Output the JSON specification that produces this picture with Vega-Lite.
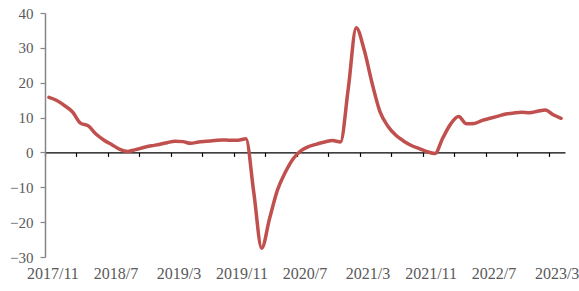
{
  "$schema": "https://vega.github.io/schema/vega-lite/v6.json",
  "width": 520,
  "height": 244,
  "autosize": {"type": "none"},
  "padding": {"left": 45, "top": 13, "right": 14, "bottom": 34},
  "background": "white",
  "config": {"view": {"stroke": null}},
  "data": {"values": [
    {"month": "2017/11", "v": 15.8},
    {"month": "2017/12", "v": 14.9},
    {"month": "2018/1", "v": 13.4},
    {"month": "2018/2", "v": 11.6},
    {"month": "2018/3", "v": 8.4},
    {"month": "2018/4", "v": 7.6},
    {"month": "2018/5", "v": 5.2},
    {"month": "2018/6", "v": 3.5},
    {"month": "2018/7", "v": 2.2},
    {"month": "2018/8", "v": 0.9},
    {"month": "2018/9", "v": 0.3},
    {"month": "2018/10", "v": 0.8},
    {"month": "2018/11", "v": 1.4},
    {"month": "2018/12", "v": 1.9},
    {"month": "2019/1", "v": 2.3},
    {"month": "2019/2", "v": 2.8},
    {"month": "2019/3", "v": 3.2},
    {"month": "2019/4", "v": 3.1},
    {"month": "2019/5", "v": 2.6},
    {"month": "2019/6", "v": 3.0},
    {"month": "2019/7", "v": 3.2},
    {"month": "2019/8", "v": 3.4},
    {"month": "2019/9", "v": 3.6},
    {"month": "2019/10", "v": 3.5},
    {"month": "2019/11", "v": 3.5},
    {"month": "2019/12", "v": 3.9},
    {"month": "2020/1", "v": -11.5},
    {"month": "2020/2", "v": -27.5},
    {"month": "2020/3", "v": -19.0},
    {"month": "2020/4", "v": -10.8},
    {"month": "2020/5", "v": -5.7},
    {"month": "2020/6", "v": -1.8},
    {"month": "2020/7", "v": 0.5},
    {"month": "2020/8", "v": 1.7},
    {"month": "2020/9", "v": 2.4},
    {"month": "2020/10", "v": 3.0},
    {"month": "2020/11", "v": 3.4},
    {"month": "2020/12", "v": 3.0},
    {"month": "2021/1", "v": 18.5},
    {"month": "2021/2", "v": 35.8},
    {"month": "2021/3", "v": 29.5},
    {"month": "2021/4", "v": 20.0},
    {"month": "2021/5", "v": 11.8},
    {"month": "2021/6", "v": 7.6},
    {"month": "2021/7", "v": 5.0},
    {"month": "2021/8", "v": 3.3},
    {"month": "2021/9", "v": 2.0},
    {"month": "2021/10", "v": 1.1},
    {"month": "2021/11", "v": 0.2},
    {"month": "2021/12", "v": -0.3},
    {"month": "2022/1", "v": 4.2},
    {"month": "2022/2", "v": 8.2},
    {"month": "2022/3", "v": 10.3},
    {"month": "2022/4", "v": 8.2},
    {"month": "2022/5", "v": 8.3},
    {"month": "2022/6", "v": 9.2},
    {"month": "2022/7", "v": 9.8},
    {"month": "2022/8", "v": 10.4},
    {"month": "2022/9", "v": 11.0},
    {"month": "2022/10", "v": 11.3},
    {"month": "2022/11", "v": 11.5},
    {"month": "2022/12", "v": 11.4},
    {"month": "2023/1", "v": 11.8},
    {"month": "2023/2", "v": 12.2},
    {"month": "2023/3", "v": 10.8},
    {"month": "2023/4", "v": 9.8}
  ]},
  "mark": {"type": "line", "color": "#C0504D", "strokeWidth": 3.5, "interpolate": "monotone", "strokeCap": "round", "strokeJoin": "round"},
  "encoding": {
    "x": {
      "field": "month",
      "type": "ordinal",
      "sort": null,
      "scale": {"type": "band", "paddingInner": 0, "paddingOuter": 0},
      "axis": {
        "title": null,
        "orient": "bottom",
        "offset": -104.6,
        "bandPosition": 0,
        "values": ["2017/11", "2018/3", "2018/7", "2018/11", "2019/3", "2019/7", "2019/11", "2020/3", "2020/7", "2020/11", "2021/3", "2021/7", "2021/11", "2022/3", "2022/7", "2022/11", "2023/3"],
        "labelExpr": "indexof(['2017/11','2018/7','2019/3','2019/11','2020/7','2021/3','2021/11','2022/7','2023/3'], datum.label) >= 0 ? datum.label : ''",
        "labelAngle": 0,
        "labelOffset": 3.94,
        "labelPadding": 109,
        "labelFont": "Liberation Serif",
        "labelFontSize": 16,
        "labelColor": "#595959",
        "labelOverlap": false,
        "labelBound": false,
        "labelFlush": false,
        "domain": true,
        "domainColor": "#000000",
        "domainWidth": 1.2,
        "ticks": true,
        "tickColor": "#000000",
        "tickSize": 4,
        "tickWidth": 1.2,
        "grid": false
      }
    },
    "y": {
      "field": "v",
      "type": "quantitative",
      "scale": {"domain": [-30, 40], "nice": false, "zero": false},
      "axis": {
        "title": null,
        "values": [-30, -20, -10, 0, 10, 20, 30, 40],
        "grid": false,
        "domainColor": "#868686",
        "domainWidth": 1.5,
        "tickColor": "#868686",
        "tickSize": 5,
        "tickWidth": 1.2,
        "labelFont": "Liberation Serif",
        "labelFontSize": 15,
        "labelColor": "#595959",
        "labelPadding": 7
      }
    }
  }
}
